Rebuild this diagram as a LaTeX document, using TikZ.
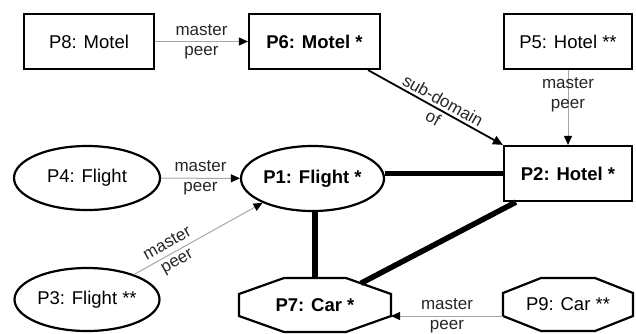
\documentclass[tikz,border=0pt]{standalone}
\usepackage{fontspec}
\setmainfont{Liberation Sans}
\usetikzlibrary{arrows.meta,shapes.geometric}
\begin{document}
\begin{tikzpicture}[x=1pt,y=-1pt,
  nfont/.style={font=\fontsize{18.5}{21}\selectfont},
  bnode/.style={font=\fontsize{18.5}{21}\selectfont\bfseries},
  box/.style={draw, line width=2.2pt, rectangle, inner sep=0pt, nfont},
  ell/.style={draw, line width=2.2pt, ellipse, inner sep=0pt, nfont},
  oct/.style={rectangle, inner sep=0pt, outer sep=0pt, nfont},
  octline/.style={line width=2.2pt, line join=miter},
  link/.style={draw=black!35, line width=1pt, -{Triangle[length=9pt,width=8pt,color=black]}},
  sub/.style={draw=black, line width=1.8pt, -{Triangle[length=10pt,width=9pt]}},
  lbl/.style={font=\fontsize{17}{20}\selectfont, align=center, text=black!85, inner sep=0pt},
  strong/.style={line width=5.5pt},
]
\useasboundingbox (0,0) rectangle (636,333);

% nodes
\node[box, minimum width=130pt, minimum height=55pt] (P8) at (89,41.5) {P8: Motel};
\node[box, bnode, minimum width=131pt, minimum height=55pt] (P6) at (314.5,41.5) {P6: Motel *};
\node[box, minimum width=128pt, minimum height=55pt] (P5) at (568,41.5) {P5: Hotel **};
\node[box, bnode, minimum width=128pt, minimum height=55pt] (P2) at (568,173.5) {P2: Hotel *};
\node[ell, minimum width=146pt, minimum height=64pt] (P4) at (87,178) {P4: Flight};
\node[ell, bnode, minimum width=143pt, minimum height=65pt] (P1) at (312.5,178.5) {P1: Flight *};
\node[ell, minimum width=145pt, minimum height=63pt] (P3) at (87,299.5) {P3: Flight **};
\node[oct, bnode, minimum width=152pt, minimum height=54pt] (P7) at (315,305) {P7: Car *};
\node[oct, minimum width=130pt, minimum height=53pt] (P9) at (568,304.5) {P9: Car **};

% octagon outlines
\draw[octline] ([xshift=45pt]P7.north west) -- ([xshift=-45pt]P7.north east)
  -- coordinate[pos=0.33] (P7slant) ([yshift=-16pt]P7.north east)
  -- ([yshift=16pt]P7.south east) -- ([xshift=-45pt]P7.south east)
  -- ([xshift=45pt]P7.south west) -- ([yshift=16pt]P7.south west)
  -- ([yshift=-16pt]P7.north west) -- cycle;
\draw[octline] ([xshift=38pt]P9.north west) -- ([xshift=-38pt]P9.north east)
  -- ([yshift=-15pt]P9.north east)
  -- ([yshift=15pt]P9.south east) -- ([xshift=-38pt]P9.south east)
  -- ([xshift=38pt]P9.south west) -- ([yshift=15pt]P9.south west)
  -- ([yshift=-15pt]P9.north west) -- cycle;

% strong links
\draw[strong] (P2.west) -- (P2.west -| P1.east);
\draw[strong] (P7.north |- P1.south) -- (P7.north);
\draw[strong] ([xshift=13pt]P2.south west) -- (P7slant);

% master/peer links
\draw[link] (P8) -- (P6) node[lbl, midway] {master\\peer};
\draw[link] (P5) -- (P2) node[lbl, pos=0.33] {master\\peer};
\draw[link] (P4) -- (P1) node[lbl, midway] {master\\peer};
\draw[link] (P3.28) -- (P1.206) node[lbl, sloped, pos=0.3] {master\\peer};
\draw[link] ([yshift=-11.5pt]P9.west) -- ([yshift=-11pt]P7.east) node[lbl, midway] {master\\peer};

% sub-domain
\draw[sub] ([xshift=-13pt]P6.south east) -- (P2.north west) node[lbl, sloped, pos=0.52] {sub-domain\\of};
\end{tikzpicture}
\end{document}
